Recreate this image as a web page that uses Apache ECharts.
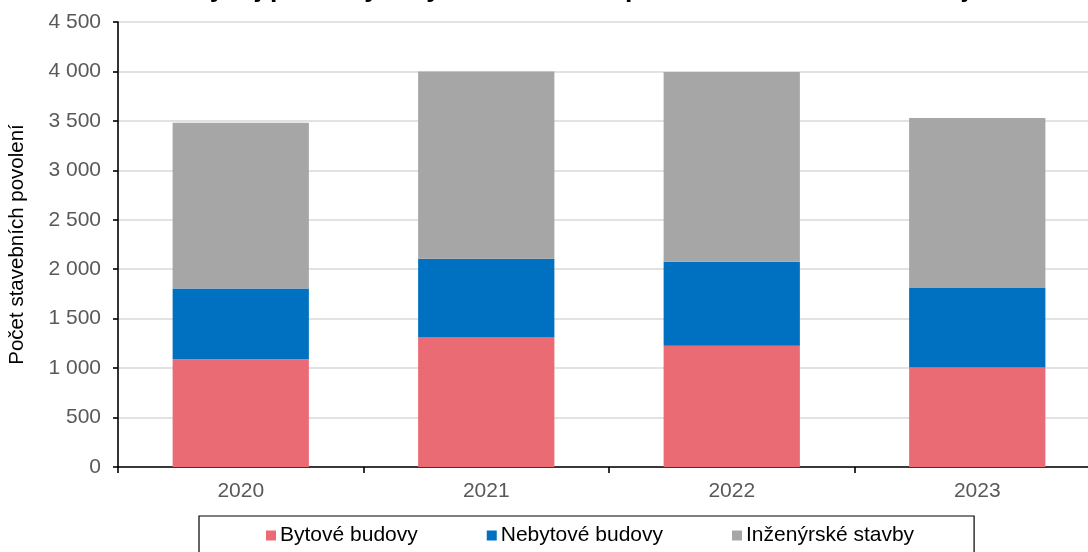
<!DOCTYPE html>
<html>
<head>
<meta charset="utf-8">
<script src="https://cdn.jsdelivr.net/npm/echarts@6/dist/echarts.min.js"></script>
<style>
    html, body { margin: 0; padding: 0; background: #fff; }
    #chart { width: 1088px; height: 552px; }
</style>
</head>
<body>
<div id="chart"></div>
<script>
// roky
var years = ['2020', '2021', '2022', '2023'];
// počty povolení podle typu stavby
var bytove = [1090, 1310, 1225, 1005];
var nebytove = [715, 795, 850, 810];
var inzenyrske = [1675, 1895, 1920, 1715];
var seriesNames = ['Bytové budovy', 'Nebytové budovy', 'Inženýrské stavby'];
var seriesColors = ['#EA6B73', '#0070C0', '#A6A6A6'];

var fontFam = '"Liberation Sans", Arial, sans-serif';

var chart = echarts.init(document.getElementById('chart'));

var option = {
    animation: false,
    textStyle: { fontFamily: fontFam },
    title: {
        // nadpis je v předloze z větší části oříznutý horním okrajem
        text: 'Vývoj počtu vydaných stavebních povolení v Jihočeském kraji',
        left: 192,
        top: -23,
        padding: 0,
        textStyle: {
            fontFamily: fontFam,
            fontSize: 26.5,
            fontWeight: 'bold',
            color: '#000',
            lineHeight: 26
        }
    },
    legend: {
        left: 199,
        top: 516,
        padding: [9, 60, 20, 67],
        itemGap: 69,
        itemWidth: 10,
        itemHeight: 10,
        icon: 'rect',
        borderColor: '#000',
        borderWidth: 1.2,
        textStyle: { fontFamily: fontFam, fontSize: 21, color: '#000', padding: [0, 0, 0, -1] },
        data: seriesNames
    },
    grid: {
        left: 118,
        top: 22,
        width: 982,
        bottom: 85,
        outerBoundsMode: 'none'
    },
    xAxis: {
        type: 'category',
        data: years,
        axisLine: { lineStyle: { color: '#000', width: 1.6 } },
        axisTick: { show: true, length: 6, lineStyle: { color: '#000', width: 1.6 } },
        axisLabel: { color: '#595959', fontSize: 21, margin: 14 }
    },
    yAxis: {
        type: 'value',
        min: 0,
        max: 4500,
        interval: 500,
        name: 'Počet stavebních povolení',
        nameLocation: 'middle',
        nameGap: 90,
        nameTextStyle: { color: '#000', fontSize: 20.5, fontFamily: fontFam },
        axisLine: { show: true, lineStyle: { color: '#000', width: 1.6 } },
        axisTick: { show: true, length: 5, lineStyle: { color: '#000', width: 1.6 } },
        axisLabel: {
            color: '#595959',
            fontSize: 21,
            margin: 17,
            formatter: function (v) {
                return String(v).replace(/\B(?=(\d{3})+(?!\d))/g, ' ');
            }
        },
        splitLine: { lineStyle: { color: '#D9D9D9', width: 1.6 } }
    },
    series: [
        {
            name: seriesNames[0],
            type: 'bar',
            stack: 'celkem',
            barWidth: '55.5%',
            itemStyle: { color: seriesColors[0] },
            data: bytove
        },
        {
            name: seriesNames[1],
            type: 'bar',
            stack: 'celkem',
            barWidth: '55.5%',
            itemStyle: { color: seriesColors[1] },
            data: nebytove
        },
        {
            name: seriesNames[2],
            type: 'bar',
            stack: 'celkem',
            barWidth: '55.5%',
            itemStyle: { color: seriesColors[2] },
            data: inzenyrske
        }
    ]
};

chart.setOption(option);
</script>
</body>
</html>
